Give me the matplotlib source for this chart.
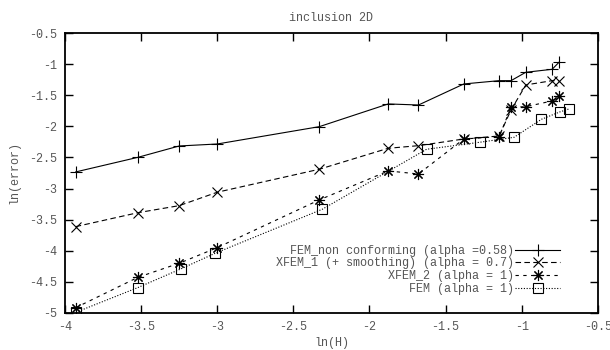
import matplotlib
matplotlib.use("Agg")
import matplotlib.pyplot as plt
from matplotlib.ticker import FuncFormatter

plt.rcParams['font.family'] = ['Liberation Mono', 'DejaVu Sans Mono']
plt.rcParams['axes.unicode_minus'] = False

# ln(H) and ln(error) for each method
x_nc = [-3.93, -3.52, -3.25, -3.0, -2.33, -1.877, -1.678, -1.38, -1.148, -1.07, -0.973, -0.80, -0.755]
y_nc = [-2.733, -2.497, -2.315, -2.283, -2.004, -1.638, -1.655, -1.316, -1.263, -1.263, -1.128, -1.08, -0.967]

x_x1 = [-3.93, -3.52, -3.25, -3.0, -2.33, -1.877, -1.678, -1.38, -1.148, -1.07, -0.973, -0.80, -0.755]
y_x1 = [-3.614, -3.389, -3.276, -3.06, -2.69, -2.352, -2.31, -2.202, -2.154, -1.735, -1.332, -1.263, -1.263]

x_x2 = [-3.93, -3.52, -3.25, -3.0, -2.33, -1.877, -1.678, -1.38, -1.148, -1.07, -0.973, -0.80, -0.755]
y_x2 = [-4.919, -4.429, -4.204, -3.952, -3.184, -2.717, -2.766, -2.202, -2.165, -1.692, -1.682, -1.59, -1.505]

x_fem = [-3.928, -3.523, -3.24, -3.014, -2.31, -1.625, -1.275, -1.05, -0.87, -0.75, -0.69]
y_fem = [-4.993, -4.597, -4.296, -4.043, -3.334, -2.368, -2.255, -2.175, -1.885, -1.767, -1.719]

labels = ["FEM_non conforming (alpha =0.58)",
          "XFEM_1 (+ smoothing) (alpha = 0.7)",
          "XFEM_2 (alpha = 1)",
          "FEM (alpha = 1)"]
w = max(len(s) for s in labels)
labels = [s.rjust(w) for s in labels]

txt = '#555555'
fs = 8.5

fig = plt.figure(figsize=(6.1, 3.5), dpi=100)
ax = fig.add_axes([0.1066, 0.1066, 0.8734, 0.7983])

ax.plot(x_nc, y_nc, color='black', lw=0.8, ls='-', marker='+', ms=8, mew=0.8, label=labels[0])
ax.plot(x_x1, y_x1, color='black', lw=0.8, ls=(0, (5, 3)), marker='x', ms=7, mew=0.8, label=labels[1])
ax.plot(x_x2, y_x2, color='black', lw=0.8, ls=(0, (3, 4)), marker=(8, 2, 0), ms=8, mew=0.8, label=labels[2])
ax.plot(x_fem, y_fem, color='black', lw=0.8, ls=(0, (1, 1.5)), marker='s', ms=7, mew=0.8,
        mfc='none', mec='black', label=labels[3])

ax.set_xlim(-4, -0.5)
ax.set_ylim(-5, -0.5)
ax.set_xticks([-4, -3.5, -3, -2.5, -2, -1.5, -1, -0.5])
ax.set_yticks([-5, -4.5, -4, -3.5, -3, -2.5, -2, -1.5, -1, -0.5])
fmt = FuncFormatter(lambda v, p: ('%g' % v))
ax.xaxis.set_major_formatter(fmt)
ax.yaxis.set_major_formatter(fmt)
ax.tick_params(direction='in', length=6, width=1, top=True, right=True,
               labelsize=fs, labelcolor=txt, pad=6)
for s in ax.spines.values():
    s.set_linewidth(1.3)

ax.set_title("inclusion 2D", fontsize=fs, color=txt, pad=9)
ax.set_xlabel("ln(H)", fontsize=fs, color=txt, labelpad=3)
ax.set_ylabel("ln(error)", fontsize=fs, color=txt, labelpad=6)

ax.legend(loc='lower right', bbox_to_anchor=(0.945, 0.035), frameon=False, markerfirst=False,
          fontsize=fs, labelcolor=txt, handlelength=3.8, handletextpad=0.15,
          labelspacing=0.05, borderpad=0.2)

fig.savefig("out.png", dpi=100)
